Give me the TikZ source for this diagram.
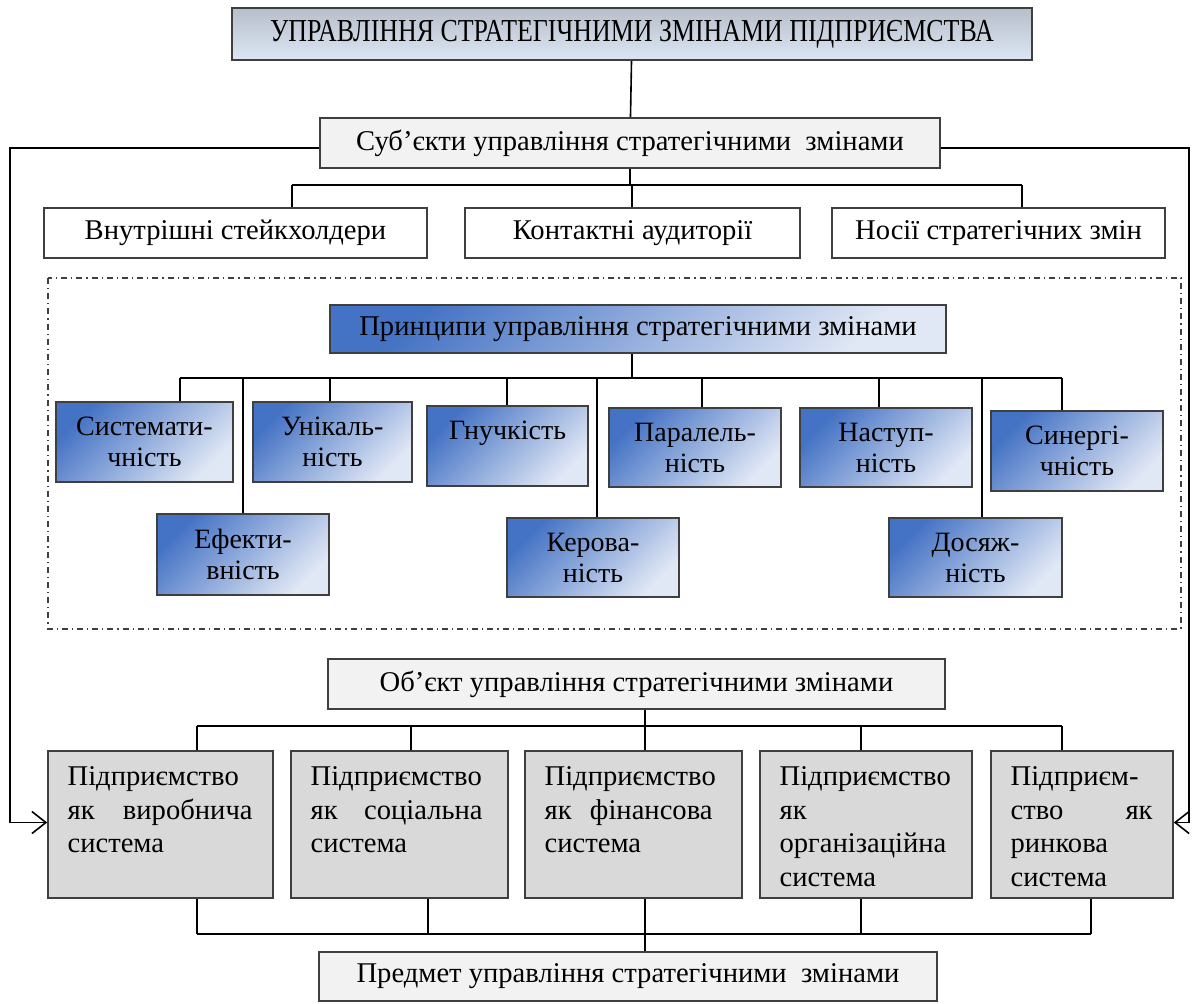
\documentclass[tikz,border=0pt]{standalone}
\usepackage{fontspec}
\setmainfont{Liberation Serif}
\newfontfamily\titlefont[FakeStretch=0.81]{Liberation Serif}
\usetikzlibrary{arrows.meta}

\definecolor{edge}{HTML}{3F3F3F}
\definecolor{paper}{HTML}{F2F2F2}
\definecolor{sysgray}{HTML}{D9D9D9}
\definecolor{titletop}{HTML}{B8BECA}
\definecolor{titlebot}{HTML}{DCE6F4}
\definecolor{bluedark}{HTML}{4472C4}
\definecolor{bluelight}{HTML}{E1E8F5}

\begin{document}
\begin{tikzpicture}[x=0.5pt,y=-0.5pt,
  base/.style={draw=edge, line width=0.8pt, inner sep=0pt, align=center,
    font=\fontsize{14.3}{16}\selectfont},
  titlebox/.style={base, top color=titletop, bottom color=titlebot},
  plainbox/.style={base, fill=paper},
  whitebox/.style={base, fill=white},
  bluebox/.style={base, top color=bluedark, bottom color=bluelight, shading angle=45,
    font=\fontsize{14}{15.5}\selectfont},
  sysbox/.style={base, fill=sysgray, minimum height=73.5pt},
  systext/.style={inner sep=0pt, align=left, anchor=north west,
    font=\fontsize{14.3}{16.8}\selectfont},
  conn/.style={draw=black, line width=0.8pt},
  arr/.style={conn, -{Straight Barb[length=7pt,width=11pt]}},
  frame/.style={draw=edge, line width=0.6pt, dash dot}
]
\useasboundingbox (0,0) rectangle (1197,1003);

% ---- governing level
\node[titlebox, minimum width=400pt, minimum height=26pt] (top) at (632,34)
  {\titlefont\fontsize{16}{18}\selectfont УПРАВЛІННЯ СТРАТЕГІЧНИМИ ЗМІНАМИ ПІДПРИЄМСТВА};
\node[plainbox, minimum width=310pt, minimum height=25pt] (subj) at (630,143)
  {Суб'єкти управління стратегічними\ \ змінами};

% ---- subjects
\node[whitebox, minimum width=191.5pt, minimum height=25pt] (in1) at (235.5,233) {Внутрішні стейкхолдери};
\node[whitebox, minimum width=167.5pt, minimum height=25pt] (in2) at (632.5,233) {Контактні аудиторії};
\node[whitebox, minimum width=166.5pt, minimum height=25pt] (in3) at (998.5,233) {Носії стратегічних змін};

% ---- principles frame
\draw[frame] (48,278) rectangle (1181,629);
\node[bluebox, minimum width=308pt, minimum height=24pt, font=\fontsize{14.3}{16}\selectfont] (princ) at (638,329)
  {Принципи управління стратегічними змінами};

\node[bluebox, minimum width=88.5pt, minimum height=40pt] (p1) at (144.5,442) {Системати-\\чність};
\node[bluebox, minimum width=86pt,   minimum height=40.5pt] (p2) at (243,554.5) {Ефекти-\\вність};
\node[bluebox, minimum width=79.5pt, minimum height=40pt] (p3) at (332.5,442) {Унікаль-\\ність};
\node[bluebox, minimum width=80.5pt, minimum height=40pt] (p4) at (507.5,446) {Гнучкість\\\phantom{н}};
\node[bluebox, minimum width=86pt,   minimum height=39.5pt] (p5) at (593,557.5) {Керова-\\ність};
\node[bluebox, minimum width=86pt,   minimum height=39.5pt] (p6) at (695,447.5) {Паралель-\\ність};
\node[bluebox, minimum width=86pt,   minimum height=39.5pt] (p7) at (886,447.5) {Наступ-\\ність};
\node[bluebox, minimum width=86.5pt, minimum height=39.5pt] (p8) at (975.5,557.5) {Досяж-\\ність};
\node[bluebox, minimum width=86pt,   minimum height=40pt] (p9) at (1077,451) {Синергі-\\чність};

% ---- object and systems
\node[plainbox, minimum width=308.5pt, minimum height=25pt] (obj) at (636.5,684)
  {Об'єкт управління стратегічними змінами};

\node[sysbox, minimum width=112.5pt] (s1) at (160.5,824.5) {};
\node[sysbox, minimum width=108.5pt] (s2) at (399.5,824.5) {};
\node[sysbox, minimum width=108.5pt] (s3) at (633.5,824.5) {};
\node[sysbox, minimum width=106pt]   (s4) at (866,824.5) {};
\node[sysbox, minimum width=91pt]    (s5) at (1082,824.5) {};

\node[systext, text width=92.5pt] at ([shift={(10pt,-8pt)}]s1.north west)
  {Підприємство\\як\hfill виробнича\\система};
\node[systext, text width=86pt] at ([shift={(10pt,-8pt)}]s2.north west)
  {Підприємство\\як\hfill соціальна\\система};
\node[systext, text width=84pt] at ([shift={(10pt,-8pt)}]s3.north west)
  {Підприємство\\як\hfill фінансова\\система};
\node[systext, text width=84pt] at ([shift={(10pt,-8pt)}]s4.north west)
  {Підприємство\\як\\організаційна\\система};
\node[systext, text width=71pt] at ([shift={(10pt,-8pt)}]s5.north west)
  {Підприєм-\\ство\hfill як\\ринкова\\система};

\node[plainbox, minimum width=309pt, minimum height=24.5pt] (pred) at (628,976.5)
  {Предмет управління стратегічними\ \ змінами};

% ---- bus coordinates
\coordinate (subjbus) at (630,185);
\coordinate (pbus) at (632,378);
\coordinate (objbus) at (645,726);
\coordinate (predbus) at (645,934);

% ---- connectors: governing level to subjects
\draw[conn] (top) -- (subj);
\draw[conn] (subj.south) -- (subj.south |- subjbus);
\draw[conn] (292,185) -- (1022,185);
\draw[conn] (292,185) -- (292,0 |- in1.north);
\draw[conn] (632,185) -- (632,0 |- in2.north);
\draw[conn] (1022,185) -- (1022,0 |- in3.north);

% ---- connectors: principles
\draw[conn] (princ.south -| pbus) -- (pbus);
\draw[conn] (180,378) -- (1062,378);
\foreach \px/\pn in {180/p1, 243/p2, 330/p3, 507/p4, 597/p5, 702/p6, 879/p7, 982/p8, 1062/p9}
  \draw[conn] (\px,378) -- (\px,0 |- \pn.north);

% ---- connectors: object to systems
\draw[conn] (obj.south -| objbus) -- (objbus);
\draw[conn] (197,726) -- (1062,726);
\foreach \px/\sn in {197/s1, 411/s2, 645/s3, 861/s4, 1062/s5}
  \draw[conn] (\px,726) -- (\px,0 |- \sn.north);

% ---- connectors: systems to subject matter
\draw[conn] (197,934) -- (1091,934);
\foreach \px/\sn in {197/s1, 428/s2, 645/s3, 861/s4, 1091/s5}
  \draw[conn] (\px,0 |- \sn.south) -- (\px,934);
\draw[conn] (predbus) -- (predbus |- pred.north);

% ---- side feedback arrows
\draw[arr] ([yshift=-2.5pt]subj.west) -| ([xshift=-18.5pt,yshift=1pt]s1.west) -- ([yshift=1pt]s1.west);
\draw[arr] ([yshift=-2.5pt]subj.east) -| ([xshift=7.5pt,yshift=1pt]s5.east) -- ([yshift=1pt]s5.east);
\end{tikzpicture}
\end{document}
